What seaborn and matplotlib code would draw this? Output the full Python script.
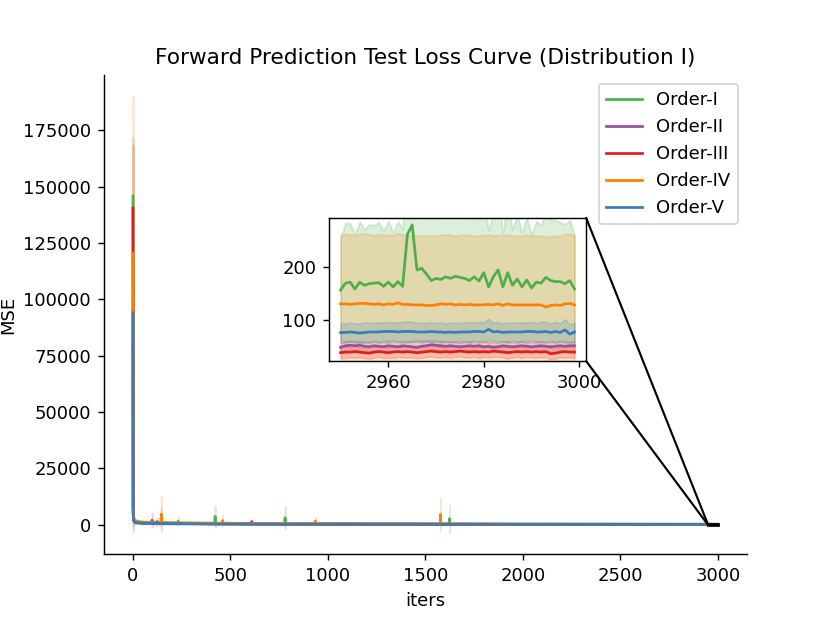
import numpy as np
import matplotlib
matplotlib.use("Agg")
import matplotlib.pyplot as plt
import seaborn as sns
from matplotlib.patches import Rectangle, ConnectionPatch

# ---------------- data ----------------
series_names = ["Order-I", "Order-II", "Order-III", "Order-IV", "Order-V"]

# sparse iterations for the full run (0 .. 2949)
main_iters = [0, 1, 2, 4, 8, 15, 30, 60, 97, 98, 99, 122, 123, 124, 143, 145, 147,
              230, 231, 232, 420, 421, 422, 459, 460, 461, 608, 609, 610, 779, 780, 781,
              934, 935, 936, 1200, 1576, 1577, 1578, 1622, 1623, 1624, 2000, 2500, 2949]

order1_mean = [145800, 9000, 4000, 2500, 1800, 1400, 1100, 900, 820, 820, 820, 760, 760, 760,
               720, 3000, 720, 600, 1500, 600, 460, 3600, 460, 440, 440, 440, 390, 390, 390,
               340, 3000, 340, 310, 310, 310, 270, 240, 240, 240, 235, 2600, 235, 205, 188, 172]
order1_spread = [26000, 7000, 2500, 1300, 900, 700, 560, 450, 400, 400, 400, 380, 380, 380,
                 360, 3900, 360, 300, 2000, 300, 230, 4800, 230, 220, 220, 220, 200, 200, 200,
                 170, 5000, 170, 155, 155, 155, 140, 125, 125, 125, 120, 6200, 120, 115, 112, 110]

order2_mean = [80000, 6000, 3000, 1800, 1300, 1000, 800, 650, 600, 2000, 600, 560, 560, 560,
               530, 530, 530, 450, 450, 450, 330, 330, 330, 320, 320, 320, 280, 280, 280,
               240, 240, 240, 220, 220, 220, 190, 160, 160, 160, 155, 155, 155, 110, 80, 52]
order2_spread = [20000, 5000, 2000, 900, 600, 400, 300, 200, 180, 3200, 180, 160, 160, 160,
                 150, 150, 150, 120, 120, 120, 90, 90, 90, 85, 85, 85, 70, 70, 70,
                 60, 60, 60, 50, 50, 50, 40, 30, 30, 30, 28, 28, 28, 18, 12, 8]

order3_mean = [140500, 8000, 3500, 2200, 1500, 1100, 850, 700, 640, 640, 640, 600, 600, 600,
               570, 570, 570, 480, 480, 480, 350, 350, 350, 340, 340, 340, 300, 1300, 300,
               250, 250, 250, 230, 230, 230, 190, 160, 160, 160, 150, 150, 150, 100, 70, 40]
order3_spread = [28000, 10800, 3000, 1200, 700, 450, 320, 220, 200, 200, 200, 180, 180, 180,
                 170, 170, 170, 140, 140, 140, 100, 100, 100, 95, 95, 95, 85, 900, 85,
                 70, 70, 70, 60, 60, 60, 45, 35, 35, 35, 32, 32, 32, 20, 14, 10]

order4_mean = [120500, 8500, 4000, 2600, 1900, 1500, 1200, 1000, 950, 950, 950, 900, 900, 900,
               870, 4600, 870, 760, 760, 760, 620, 620, 620, 600, 1800, 600, 520, 520, 520,
               460, 460, 460, 430, 1600, 430, 360, 300, 4500, 300, 290, 290, 290, 210, 170, 130]
order4_spread = [69500, 9000, 3500, 1800, 1200, 900, 750, 650, 620, 620, 620, 600, 600, 600,
                 580, 7800, 580, 520, 520, 520, 450, 450, 450, 440, 2600, 440, 400, 400, 400,
                 370, 370, 370, 350, 1800, 350, 310, 280, 7400, 280, 270, 270, 270, 200, 165, 131]

order5_mean = [94000, 5000, 2500, 1600, 1200, 950, 750, 600, 560, 560, 560, 520, 1300, 520,
               500, 500, 500, 420, 420, 420, 300, 300, 300, 290, 290, 290, 250, 250, 250,
               210, 210, 210, 190, 190, 190, 160, 140, 140, 140, 135, 135, 135, 110, 95, 78]
order5_spread = [20000, 4000, 1500, 800, 500, 350, 250, 180, 160, 160, 160, 150, 1700, 150,
                 140, 140, 140, 110, 110, 110, 80, 80, 80, 75, 75, 75, 60, 60, 60,
                 50, 50, 50, 45, 45, 45, 35, 28, 28, 28, 26, 26, 26, 22, 19, 17]

# last 50 iterations, every iteration (shown in the inset)
zoom_iters = list(range(2950, 3000))

order1_zoom_mean = [156, 169, 171, 158, 171, 165, 168, 169, 170, 163,
                    171, 162, 172, 163, 261, 279, 194, 197, 186, 174,
                    178, 176, 181, 178, 182, 180, 178, 174, 181, 173,
                    189, 162, 181, 194, 162, 189, 165, 177, 162, 175,
                    160, 171, 169, 180, 174, 172, 172, 168, 174, 158]
order1_zoom_spread = [98, 113, 111, 102, 114, 105, 112, 109, 114, 104,
                      115, 102, 113, 107, 203, 221, 134, 141, 126, 118,
                      118, 120, 121, 122, 122, 124, 118, 118, 121, 117,
                      129, 106, 121, 138, 102, 133, 105, 121, 102, 119,
                      100, 115, 109, 124, 114, 116, 112, 112, 114, 102]

order2_zoom_mean = [48, 51, 52, 51, 52, 50, 49, 51, 50, 49,
                    51, 50, 49, 51, 50, 49, 48, 50, 51, 53,
                    52, 51, 50, 51, 50, 49, 50, 51, 50, 51,
                    49, 50, 48, 49, 51, 50, 49, 50, 51, 50,
                    49, 50, 51, 50, 49, 50, 51, 50, 51, 51]
order2_zoom_spread = [8, 9, 8, 9, 8, 8, 9, 8, 8, 9,
                      8, 8, 9, 8, 9, 10, 12, 11, 9, 8,
                      8, 9, 8, 8, 9, 8, 8, 9, 8, 8,
                      9, 8, 9, 8, 8, 9, 8, 8, 9, 8,
                      8, 9, 8, 8, 9, 8, 8, 9, 8, 8]

order3_zoom_mean = [38, 39, 39, 40, 39, 38, 37, 39, 40, 39,
                    38, 39, 40, 39, 40, 39, 38, 39, 40, 41,
                    40, 39, 40, 39, 40, 41, 40, 39, 40, 39,
                    40, 39, 41, 40, 39, 38, 39, 40, 39, 40,
                    39, 40, 39, 40, 36, 37, 39, 40, 39, 39]
order3_zoom_spread = [10, 11, 10, 11, 10, 10, 11, 10, 10, 11,
                      10, 11, 10, 10, 11, 10, 10, 11, 10, 10,
                      11, 10, 10, 11, 10, 10, 11, 10, 10, 11,
                      10, 10, 11, 10, 10, 11, 10, 10, 11, 10,
                      10, 11, 10, 10, 11, 10, 10, 11, 10, 10]

order4_zoom_mean = [130, 130, 129, 130, 131, 131, 130, 129, 130, 128,
                    130, 129, 132, 129, 129, 128, 128, 128, 127, 127,
                    128, 130, 129, 130, 128, 129, 128, 129, 128, 128,
                    128, 129, 128, 130, 127, 130, 128, 128, 128, 128,
                    128, 128, 128, 124, 127, 128, 127, 130, 131, 128]
order4_zoom_spread = [131, 132, 131, 130, 131, 132, 131, 130, 132, 131,
                      131, 130, 132, 131, 131, 130, 131, 131, 132, 131,
                      131, 130, 132, 131, 130, 131, 132, 131, 130, 131,
                      131, 132, 131, 130, 132, 131, 131, 130, 131, 132,
                      131, 130, 131, 132, 131, 130, 131, 132, 131, 131]

order5_zoom_mean = [76, 76, 77, 76, 75, 76, 77, 77, 77, 78,
                    78, 78, 77, 78, 78, 78, 77, 77, 77, 78,
                    77, 77, 76, 77, 76, 77, 77, 77, 78, 78,
                    77, 82, 77, 78, 76, 77, 77, 77, 77, 78,
                    78, 77, 77, 78, 76, 78, 76, 81, 73, 77]
order5_zoom_spread = [18, 17, 18, 17, 18, 19, 18, 17, 18, 17,
                      18, 17, 18, 18, 19, 18, 17, 18, 17, 18,
                      17, 18, 17, 18, 18, 17, 18, 19, 17, 18,
                      18, 20, 17, 18, 17, 18, 17, 18, 18, 17,
                      18, 17, 19, 18, 17, 18, 17, 20, 18, 17]

inset_ylim = (22, 292)
inset_xticks = [2960, 2980, 3000]
inset_yticks = [100, 200]

# ---------------- plot ----------------
pal = sns.color_palette("Set1")
series_colors = [pal[2], pal[3], pal[0], pal[4], pal[1]]

main_means = [order1_mean, order2_mean, order3_mean, order4_mean, order5_mean]
main_spreads = [order1_spread, order2_spread, order3_spread, order4_spread, order5_spread]
zoom_means = [order1_zoom_mean, order2_zoom_mean, order3_zoom_mean, order4_zoom_mean, order5_zoom_mean]
zoom_spreads = [order1_zoom_spread, order2_zoom_spread, order3_zoom_spread, order4_zoom_spread, order5_zoom_spread]

fig, ax = plt.subplots(figsize=(830 / 130, 623 / 130), dpi=130)
axins = ax.inset_axes([0.35, 0.403, 0.40, 0.2985])

for name, col, mm, ms, zm, zs in zip(series_names, series_colors, main_means,
                                      main_spreads, zoom_means, zoom_spreads):
    x = np.array(main_iters + zoom_iters, dtype=float)
    m = np.array(mm + zm, dtype=float)
    s = np.array(ms + zs, dtype=float)
    sns.lineplot(x=x, y=m, ax=ax, color=col, label=name, lw=1.5)
    ax.fill_between(x, m - s, m + s, color=col, alpha=0.2)

    xz = np.array(zoom_iters, dtype=float)
    mz = np.array(zm, dtype=float)
    sz = np.array(zs, dtype=float)
    sns.lineplot(x=xz, y=mz, ax=axins, color=col, lw=1.5, legend=False)
    axins.fill_between(xz, mz - sz, mz + sz, color=col, alpha=0.2)

axins.set_ylim(*inset_ylim)
axins.set_xticks(inset_xticks)
axins.set_yticks(inset_yticks)
axins.set_xlabel("")
axins.set_ylabel("")
axins.tick_params(labelsize=10)

ax.set_title("Forward Prediction Test Loss Curve (Distribution I)", fontsize=12)
ax.set_xlabel("iters")
ax.set_ylabel("MSE", labelpad=3)
ax.legend(loc="upper right")
sns.despine(ax=ax)

# freeze main limits, then mark the zoomed region
ax.set_xlim(ax.get_xlim())
ax.set_ylim(ax.get_ylim())
x0, x1 = axins.get_xlim()
y0, y1 = axins.get_ylim()
ax.add_patch(Rectangle((x0, y0), x1 - x0, y1 - y0, fill=False, ec="black", lw=1.5, zorder=5))
for ya, yb in [(1, y1), (0, y0)]:
    con = ConnectionPatch(xyA=(1, ya), coordsA=axins.transAxes,
                          xyB=(x0, yb), coordsB=ax.transData,
                          color="black", lw=1.2)
    fig.add_artist(con)

fig.savefig("out.png", dpi=130)
